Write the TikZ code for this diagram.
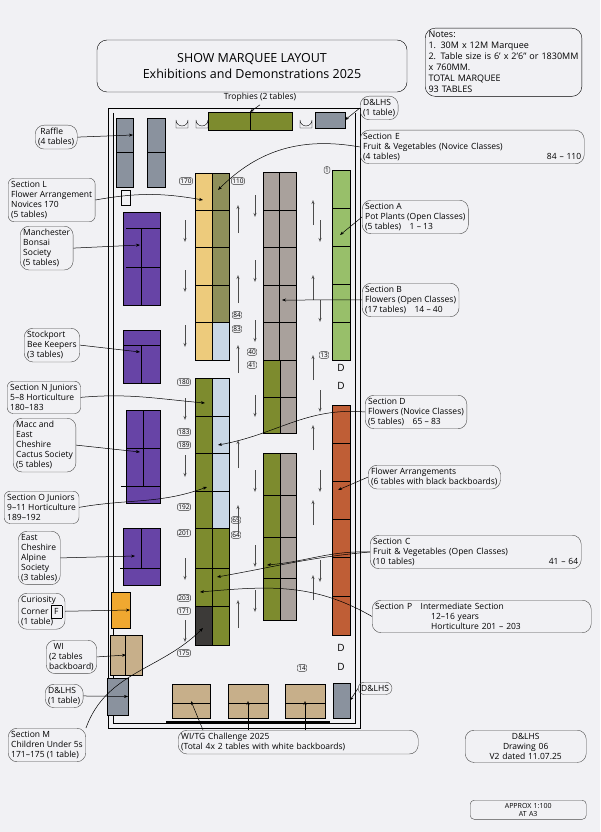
\documentclass[tikz,border=0pt]{standalone}
\usepackage{fontspec}
\setmainfont{Open Sans}
\usetikzlibrary{arrows.meta}
\definecolor{paper}{HTML}{F1F1F4}
\definecolor{cyel}{HTML}{EDCB7C}
\definecolor{colive}{HTML}{8E8F5A}
\definecolor{colv}{HTML}{7D8B2E}
\definecolor{cgrey}{HTML}{A9A19C}
\definecolor{cgreen}{HTML}{98BF6A}
\definecolor{cblue}{HTML}{C9D7E6}
\definecolor{cpurp}{HTML}{6744A6}
\definecolor{corng}{HTML}{BF5E36}
\definecolor{ctan}{HTML}{C7AF8A}
\definecolor{crgy}{HTML}{8A929E}
\definecolor{cdark}{HTML}{3C3A38}
\definecolor{cyor}{HTML}{F0A830}
\tikzset{
  tbl/.style={draw=black,line width=0.6pt,inner sep=0pt,outer sep=0pt},
  lab/.style={draw=black!70,rounded corners=9pt,align=left,inner sep=3pt,font=\fontsize{8.5}{10}\selectfont,anchor=north west},
  num/.style={draw=black!80,rounded corners=2pt,inner sep=1pt,font=\fontsize{6.5}{7}\selectfont},
  con/.style={-{Stealth[length=4pt]},line width=0.5pt},
  aisle/.style={-{Stealth[length=4pt,open]},line width=0.4pt,black!70},
}
\newcommand\tb[6]{\node[tbl,fill=#6,minimum width=#4pt-#2pt,minimum height=#5pt-#3pt] (#1) at ({(#2+#4)/2},{(#3+#5)/2}) {};}
\begin{document}
\begin{tikzpicture}[x=1pt,y=-1pt]
\fill[paper] (0,0) rectangle (600,832);
\useasboundingbox (0,0) rectangle (600,832);
% title and notes
\node[draw,rounded corners=10pt,align=center,minimum width=310pt,minimum height=52pt,font=\fontsize{12.5}{16}\selectfont] (title) at (252,66) {SHOW MARQUEE LAYOUT\\ Exhibitions and Demonstrations 2025};
\node[draw,rounded corners=10pt,align=left,anchor=north west,text width=150pt,font=\fontsize{9}{11}\selectfont] (notes) at (425,28) {Notes:\\1. 30M x 12M Marquee\\2. Table size is 6' x 2'6'' or 1830MM x 760MM.\\TOTAL MARQUEE\\93 TABLES};
% marquee walls
\draw[line width=0.8pt] (108,108) rectangle (360,728);
\draw[line width=0.6pt] (113,113) -- (113,723) -- (355,723) -- (355,113);
% top items
\node[font=\fontsize{8.5}{10}\selectfont] (troph) at (260,97) {Trophies (2 tables)};
\tb{ttro}{208}{112}{292}{130}{colv}
\draw (250,112)--(250,130);
\foreach \x in {176,196,300}{\draw (\x,128)--(\x,120) arc(180:0:6)--(\x+12,128)--cycle;}
\tb{tdtop}{315}{112}{345}{128}{crgy}
\node[lab] (ldtop) at (360,96) {D\&LHS\\(1 table)};
% raffle
\tb{traf1}{116}{118}{133}{187}{crgy}
\tb{traf2}{147}{118}{165}{187}{crgy}
\draw (116,152)--(133,152) (147,152)--(165,152);
\draw (121,190) rectangle (130,205);
% column 1 upper
\tb{c1a}{195}{173}{212}{360}{cyel}
\tb{c1b}{212}{173}{229}{322}{colive}
\tb{c1c}{212}{322}{229}{360}{cblue}
\foreach \y in {210,247,285,322}{\draw (195,\y)--(229,\y);}
% column 2
\tb{c2a}{263}{172}{296}{360}{cgrey}
\tb{c2b}{263}{360}{280}{433}{colv}
\tb{c2c}{280}{360}{296}{433}{cgrey}
\draw (279.5,172)--(279.5,360);
\foreach \y in {210,247,285,322,360,397}{\draw (263,\y)--(296,\y);}
% column 3
\tb{c3a}{332}{170}{350}{360}{cgreen}
\foreach \y in {208,246,284,322}{\draw (332,\y)--(350,\y);}
\node[font=\fontsize{10}{10}\selectfont] (d1) at (341,368) {D};
\node[font=\fontsize{10}{10}\selectfont] (d2) at (341,386) {D};
\tb{c3b}{332}{405}{350}{635}{corng}
\foreach \y in {443,481,519,557,596}{\draw (332,\y)--(350,\y);}
\node[font=\fontsize{10}{10}\selectfont] (d3) at (341,648) {D};
\node[font=\fontsize{10}{10}\selectfont] (d4) at (341,667) {D};
% column 1 lower
\tb{c4a}{195}{378}{212}{606}{colv}
\tb{c4d}{195}{606}{212}{645}{cdark}
\tb{c4b}{212}{378}{229}{528}{cblue}
\tb{c4c}{212}{528}{229}{645}{colv}
\foreach \y in {416,453,491,528,568,606}{\draw (195,\y)--(229,\y);}
% column 2 lower
\tb{c5a}{263}{453}{280}{620}{colv}
\tb{c5b}{280}{453}{296}{620}{cgrey}
\foreach \y in {495,537,578}{\draw (263,\y)--(296,\y);}
% purple blocks
\tb{p1}{123}{212}{160}{305}{cpurp}
\draw (141.5,228)--(141.5,305) (126,228)--(160,228) (126,267)--(160,267);
\tb{p2}{123}{330}{160}{383}{cpurp}
\draw (141.5,345)--(141.5,383) (123,345)--(160,345);
\tb{p3}{126}{410}{160}{503}{cpurp}
\draw (143,410)--(143,486) (126,448)--(160,448) (121,486)--(160,486);
\tb{p4}{123}{528}{160}{585}{cpurp}
\draw (141.5,528)--(141.5,568) (120,568)--(160,568);
% left wall tables
\tb{tcur}{111}{592}{130}{628}{cyor}
\tb{twi}{110}{635}{142}{675}{ctan}
\draw (125,635)--(125,675);
\tb{tdl}{107}{678}{128}{715}{crgy}
% bottom tables
\tb{b1}{172}{684}{210}{718}{ctan}
\tb{b2}{228}{684}{268}{718}{ctan}
\tb{b3}{285}{684}{325}{718}{ctan}
\foreach \x/\w in {172/210,228/268,285/325}{\draw (\x,703)--(\w,703);}
\draw[line width=1.2pt] (166,722)--(330,722);
\tb{tdr}{333}{683}{350}{718}{crgy}
\node[lab,rounded corners=6pt] (ldr) at (358,682) {D\&LHS};
% numbers
\foreach \n/\x/\y in {170/186/181,110/238/181,84/237/315,83/237/329,40/252/352,41/252/365,180/184/382,183/184/432,189/184/445,192/184/507,201/184/533,65/236/520,64/236/535,203/184/598,171/184/611,175/184/653,1/327/170,13/324/355,14/302/668}{\node[num] (n\n) at (\x,\y) {\n};}
% aisle arrows
\foreach \y in {220,270,325,398,455,558,620}{\draw[aisle] (185,\y)--(185,\y+22);}
\foreach \y in {205,275,345,440,505,600}{\draw[aisle] (238,\y+28)--(238,\y);}
\foreach \y in {195,260,320,395,470,545,590}{\draw[aisle] (255,\y)--(255,\y+22);}
\foreach \y in {200,275,355,425,500,575}{\draw[aisle] (313,\y+25)--(313,\y);}
\foreach \y in {220,300,390,470,560}{\draw[aisle] (320,\y)--(320,\y+22);}
% left labels
\node[lab] (lraf) at (35,125) {\ Raffle\\ (4 tables)};
\node[lab,rounded corners=6pt] (lsecL) at (8,178) {Section L\\Flower Arrangement\\Novices 170\\(5 tables)};
\node[lab] (lman) at (20,226) {Manchester\\Bonsai\\Society\\(5 tables)};
\node[lab] (lsto) at (24,328) {Stockport\\Bee Keepers\\(3 tables)};
\node[lab,rounded corners=6pt] (lsecN) at (7,381) {Section N Juniors\\5--8 Horticulture\\180--183};
\node[lab] (lmac) at (13,418) {Macc and\\East\\Cheshire\\Cactus Society\\(5 tables)};
\node[lab,rounded corners=6pt] (lsecO) at (4,491) {Section O Juniors\\9--11 Horticulture\\189--192};
\node[lab] (lalp) at (18,531) {East\\Cheshire\\Alpine\\Society\\(3 tables)};
\node[lab] (lcur) at (18,593) {Curiosity\\Corner \fbox{F}\\(1 table)};
\node[lab] (lwi) at (46,640) {\ \ WI\\(2 tables\\backboard)};
\node[lab] (ldl) at (45,684) {D\&LHS\\(1 table)};
\node[lab] (lsecM) at (8,728) {Section M\\Children Under 5s\\171--175 (1 table)};
% right labels
\node[lab,text width=218pt] (lsecE) at (360,130) {Section E\\Fruit \& Vegetables (Novice Classes)\\(4 tables)\hfill 84 -- 110\quad};
\node[lab] (lsecA) at (362,200) {Section A\\Pot Plants (Open Classes)\\(5 tables)\quad 1 -- 13};
\node[lab] (lsecB) at (362,283) {Section B\\Flowers (Open Classes)\\(17 tables)\quad 14 -- 40};
\node[lab] (lsecD) at (365,395) {Section D\\Flowers (Novice Classes)\\(5 tables)\quad 65 -- 83};
\node[lab] (lflow) at (368,465) {Flower Arrangements\\(6 tables with black backboards)};
\node[lab,text width=205pt] (lsecC) at (370,535) {Section C\\Fruit \& Vegetables (Open Classes)\\(10 tables)\hfill 41 -- 64\quad};
\node[lab,text width=213pt] (lsecP) at (372,600) {Section P\quad Intermediate Section\\\hspace*{56pt}12--16 years\\\hspace*{56pt}Horticulture 201 -- 203};
% bottom labels
\node[lab,text width=234pt] (lwitg) at (178,730) {WI/TG Challenge 2025\\(Total 4x 2 tables with white backboards)};
\node[lab,text width=115pt,align=center] (ldraw) at (465,730) {D\&LHS\\Drawing 06\\V2 dated 11.07.25};
\node[lab,text width=110pt,align=center,rounded corners=4pt,font=\fontsize{7}{8}\selectfont] (lapprox) at (470,800) {APPROX 1:100\\AT A3};
% connectors
\draw[con] (troph.south) -- (ttro.north);
\draw[con] (ldtop.west) -- (tdtop.east);
\draw[con] (lraf.east) -- (traf1.north east |- 0,135);
\draw[con] (lsecL.east) to[out=10,in=170] (203,200);
\draw[con] (lsecE.west) to[out=170,in=45] (218,190);
\draw[con] (lman.east) -- (140,245);
\draw[con] (lsto.east) -- (140,352);
\draw[con] (lsecN.east) to[out=5,in=175] (205,403);
\draw[con] (lmac.east) -- (140,452);
\draw[con] (lsecO.east) to[out=10,in=200] (207,487);
\draw[con] (lalp.east) -- (135,556);
\draw[con] (lcur.east) -- (tcur.east);
\draw[con] (lwi.east) -- (twi.center);
\draw[con] (ldl.east) -- (tdl.east);
\draw[con] (lsecM.north east) to[out=70,in=225] (203,628);
\draw[con] (lsecA.west) -- (340,235);
\draw[con] (lsecB.west) -- (282,300);
\draw[con] (lsecD.west) to[out=175,in=10] (218,445);
\draw[con] (lflow.west) -- (338,490);
\draw[con] (lsecC.west) to[out=178,in=5] (267,565);
\draw[con] (lsecC.west) to[out=185,in=10] (217,577);
\draw[con] (lsecP.west) to[out=150,in=5] (200,592);
\draw[con] (ldr.west) -- (tdr.east);
\draw[con] (203,730) -- (b1.center);
\draw[con] (248,730) -- (b2.center);
\draw[con] (305,730) -- (b3.center);
\end{tikzpicture}
\end{document}
